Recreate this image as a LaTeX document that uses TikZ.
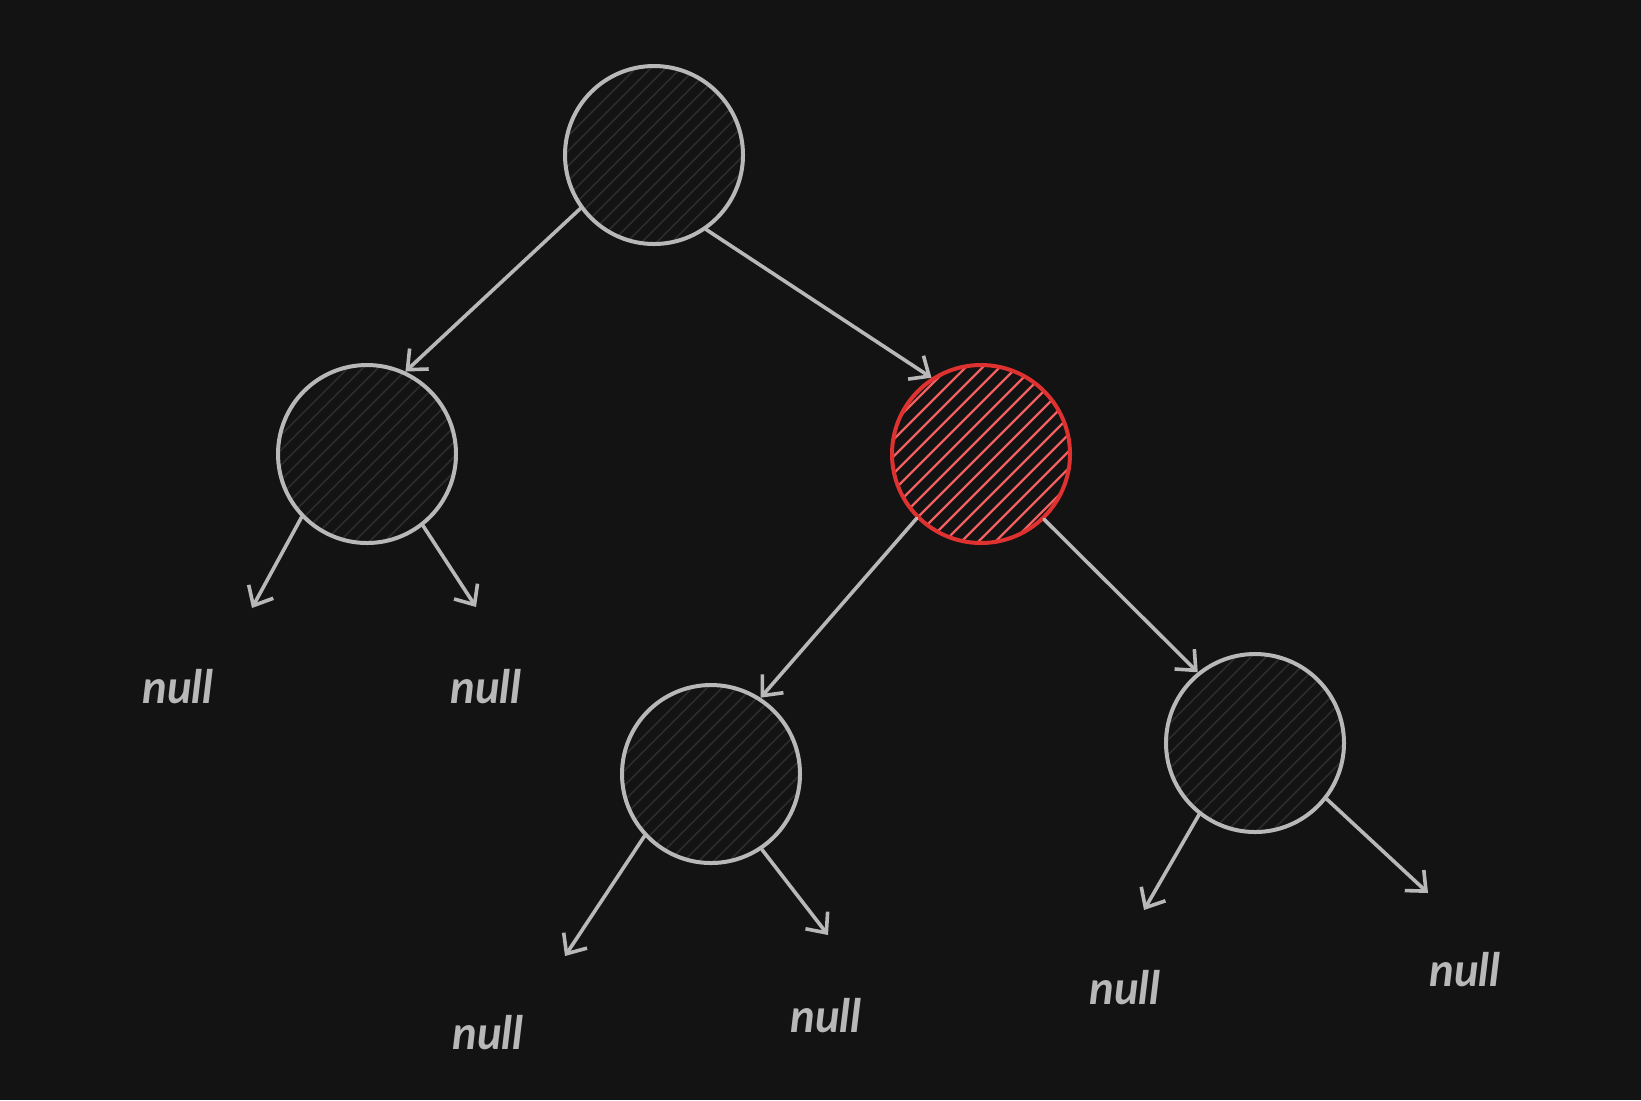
\documentclass[tikz,border=0pt]{standalone}
\usepackage{fontspec}
\usetikzlibrary{arrows.meta}
\newfontfamily\mynullfont{Lato}
\definecolor{bg}{HTML}{131313}
\definecolor{ink}{HTML}{B8B8B8}
\definecolor{redink}{HTML}{E03131}
\definecolor{redhatch}{HTML}{F06060}
\definecolor{grayhatch}{HTML}{2C2C2C}
\tikzset{
  hatchlines/.style n args={3}{path picture={
    \foreach \i in {-7,...,7}{
      \draw[#1, line width=#2, line cap=round, shift={(path picture bounding box.center)}]
        (\i*#3-50pt,-50pt) -- ++(100pt,100pt);
    }}},
  treenode/.style={circle, minimum size=89pt, inner sep=0pt, draw=ink, line width=2pt,
    hatchlines={grayhatch}{0.8pt}{7.5pt}},
  rednode/.style={circle, minimum size=89pt, inner sep=0pt, draw=redink, line width=2pt,
    hatchlines={redhatch}{1.1pt}{8.5pt}},
  edge/.style={draw=ink, line width=1.8pt, line cap=round, line join=round,
    -{Straight Barb[length=8pt,width=14pt,line width=1.8pt]}},
  nulltext/.style={text=ink, font=\mynullfont\bfseries\itshape\fontsize{23}{26}\selectfont, inner sep=0pt}
}
\begin{document}
\begin{tikzpicture}[x=0.5pt,y=-0.5pt]
\fill[bg] (0,0) rectangle (1641,1100);
\useasboundingbox (0,0) rectangle (1641,1100);

\node[treenode] (root) at (654,155) {};
\node[treenode] (L) at (367,454) {};
\node[rednode] (R) at (981,454) {};
\node[treenode] (RL) at (711,774) {};
\node[treenode] (RR) at (1255,743) {};

\coordinate (t1) at (252,608);
\coordinate (t2) at (476,607);
\coordinate (t3) at (565,956);
\coordinate (t4) at (828,935);
\coordinate (t5) at (1144,910);
\coordinate (t6) at (1428,893);

\draw[edge] (root.216) -- (L.65);
\draw[edge] (root.305) -- (R.123);
\draw[edge] (R.225) -- (RL.57);
\draw[edge] (R.314) -- (RR.129);
\draw[edge] (L.224) -- (t1);
\draw[edge] (L.308) -- (t2);
\draw[edge] (RL.223) -- (t3);
\draw[edge] (RL.304) -- (t4);
\draw[edge] (RR.232) -- (t5);
\draw[edge] (RR.322) -- (t6);

\node[nulltext] (n1) at (178,687) {null};
\node[nulltext] (n2) at (486,687) {null};
\node[nulltext] (n3) at (488,1033) {null};
\node[nulltext] (n4) at (826,1016) {null};
\node[nulltext] (n5) at (1125,988) {null};
\node[nulltext] (n6) at (1465,970) {null};
\end{tikzpicture}
\end{document}
